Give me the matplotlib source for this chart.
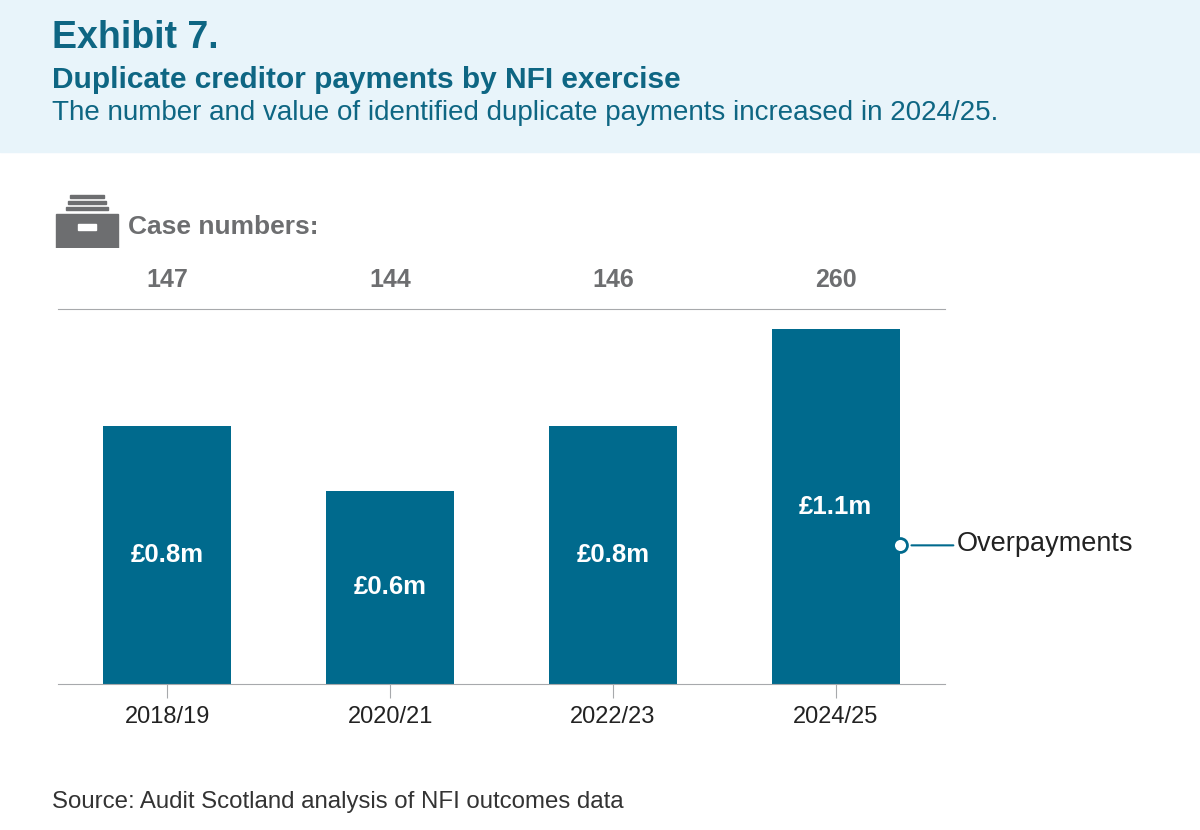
import matplotlib.pyplot as plt
from matplotlib.patches import Rectangle

plt.rcParams['font.family'] = ['Liberation Sans', 'DejaVu Sans']

years = ['2018/19', '2020/21', '2022/23', '2024/25']
values = [0.8, 0.6, 0.8, 1.1]
labels = ['£0.8m', '£0.6m', '£0.8m', '£1.1m']
cases = [147, 144, 146, 260]

BAR = '#006a8d'
TEAL = '#0e6683'
GREY = '#6d6e70'

W, H = 1200, 830
fig = plt.figure(figsize=(W / 100, H / 100), dpi=100)

# header band
fig.patches.append(Rectangle((0, 1 - 152 / H), 1, 152 / H, transform=fig.transFigure,
                             color='#e8f4fa', zorder=0))
fig.text(52 / W, 1 - 38 / H, 'Exhibit 7.', fontsize=27, fontweight='bold', color=TEAL, va='center')
fig.text(52 / W, 1 - 80 / H, 'Duplicate creditor payments by NFI exercise', fontsize=21.5,
         fontweight='bold', color=TEAL, va='center')
fig.text(52 / W, 1 - 113 / H, 'The number and value of identified duplicate payments increased in 2024/25.',
         fontsize=20, color=TEAL, va='center')

ax = fig.add_axes([58 / W, 1 - 684 / H, (945 - 58) / W, (684 - 309) / H])
x = range(len(years))
ax.bar(x, values, width=0.574, color=BAR, zorder=2)
ax.set_xlim(-0.49, 3.49)
ax.set_ylim(0, 1.163)
for i, (v, lab) in enumerate(zip(values, labels)):
    ax.text(i, v / 2, lab, ha='center', va='center', color='white', fontsize=18.5, fontweight='bold')
for s in ['left', 'right']:
    ax.spines[s].set_visible(False)
ax.spines['top'].set_color('#a7a9ac')
ax.spines['bottom'].set_color('#a7a9ac')
ax.set_yticks([])
ax.set_xticks(list(x))
ax.set_xticklabels(years, fontsize=17, color='#222222')
ax.tick_params(axis='x', length=10, color='#a7a9ac', pad=6)

# case numbers
for i, c in enumerate(cases):
    ax.text(i, 1.163 + 0.09, str(c), ha='center', va='center', fontsize=18, fontweight='bold',
            color=GREY, clip_on=False)
fig.text(128 / W, 1 - 227 / H, 'Case numbers:', fontsize=19, fontweight='bold', color=GREY, va='center')

# filing box icon
ix = fig.add_axes([52 / W, 1 - 248 / H, 70 / W, 56 / H])
ix.set_xlim(0, 70)
ix.set_ylim(0, 56)
ix.axis('off')
ix.add_patch(Rectangle((4, 0), 62, 34, color=GREY))
ix.add_patch(Rectangle((14, 38), 42, 3, color=GREY))
ix.add_patch(Rectangle((16, 44), 38, 3, color=GREY))
ix.add_patch(Rectangle((18, 50), 34, 3, color=GREY))
ix.add_patch(Rectangle((26, 18), 18, 6, color='white'))

# overpayments callout
ax.plot([3 + 0.574 / 2], [0.43], marker='o', ms=10, mfc='white', mec=BAR, mew=2, clip_on=False, zorder=4)
ax.annotate('', xy=(3.54, 0.43), xytext=(3 + 0.574 / 2 + 0.04, 0.43),
            arrowprops=dict(arrowstyle='-', color=BAR, lw=1.5), annotation_clip=False)
fig.text(957 / W, 1 - 544 / H, 'Overpayments', fontsize=19.5, color='#222222', va='center')

fig.text(52 / W, 1 - 802 / H, 'Source: Audit Scotland analysis of NFI outcomes data', fontsize=17.3,
         color='#333333', va='center')

fig.savefig('out.png', dpi=100)
